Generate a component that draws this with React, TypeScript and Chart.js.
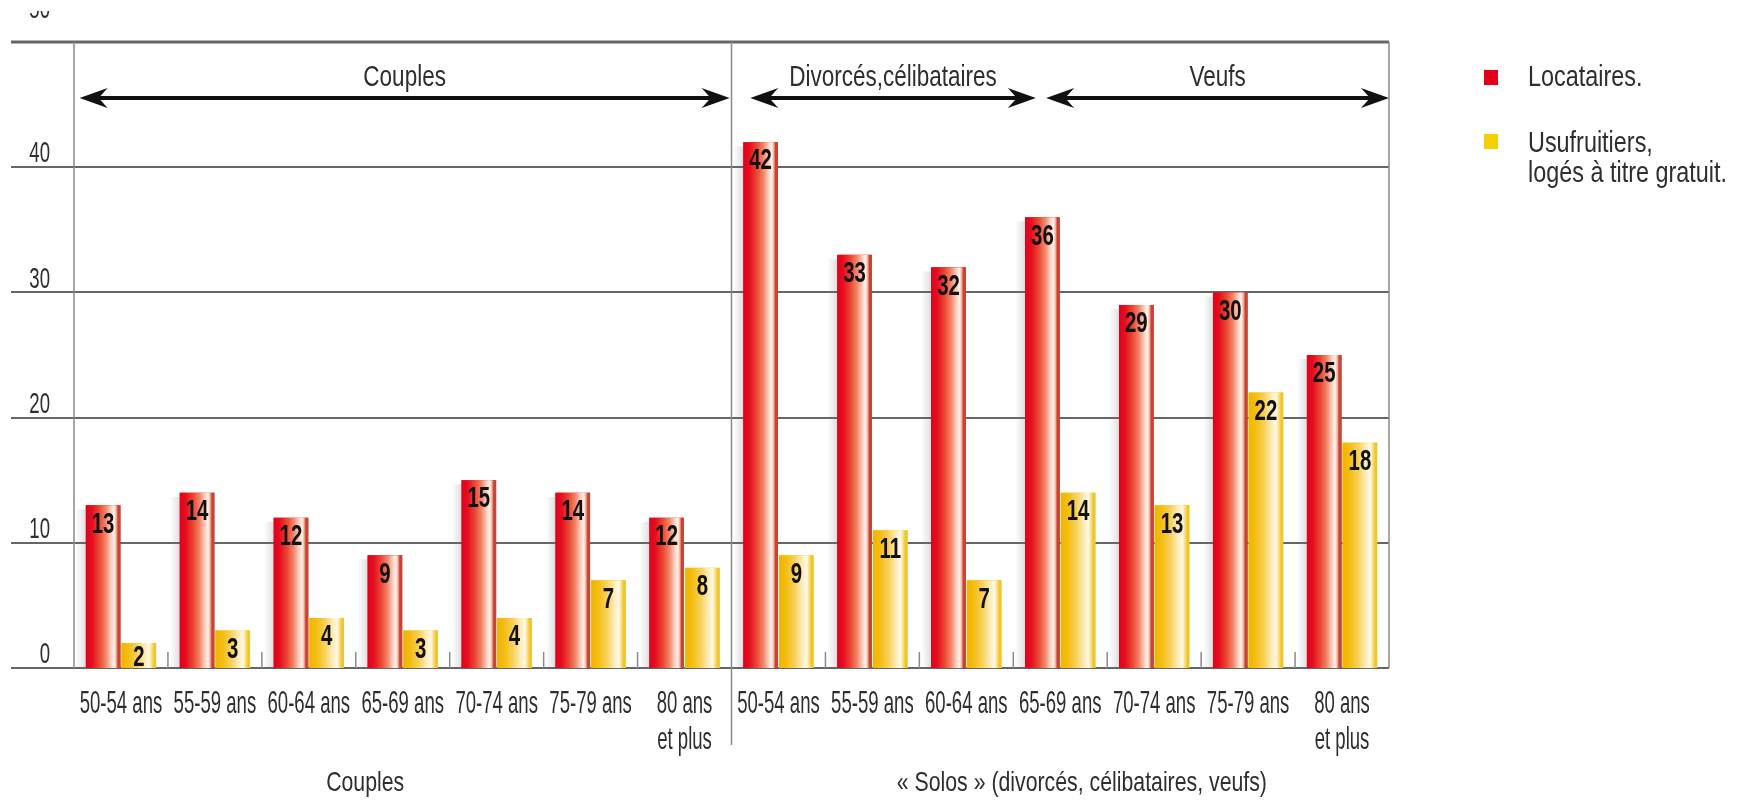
import { useEffect, useRef } from "react";
import { Chart, registerables } from "chart.js";

Chart.register(...registerables);

// Age brackets, repeated for couples and for people living alone
const ageGroups: (string | string[])[] = [
  "50-54 ans",
  "55-59 ans",
  "60-64 ans",
  "65-69 ans",
  "70-74 ans",
  "75-79 ans",
  ["80 ans", "et plus"],
];
const categories = [...ageGroups, ...ageGroups];

// Percentages per bracket
const locataires = [13, 14, 12, 9, 15, 14, 12, 42, 33, 32, 36, 29, 30, 25];
const usufruitiers = [2, 3, 4, 3, 4, 7, 8, 9, 11, 7, 14, 13, 22, 18];

const yTickValues = [0, 10, 20, 30, 40, 50];
const seriesLabels = ["Locataires.", "Usufruitiers,\nlogés à titre gratuit."];
const bandLabels = ["Couples", "Divorcés,célibataires", "Veufs"];
const groupLabels = ["Couples", "« Solos » (divorcés, célibataires, veufs)"];

const W = 1743;
const H = 801;
const FONT = "'Liberation Sans', Arial, sans-serif";
const TEXT = "#2e2e2e";
const GRID = "#666666";

// band spans and label anchors in category units (0 = left edge of the first bracket)
const BAND_SPANS: [number, number][] = [
  [0.06, 6.98],
  [7.2, 10.24],
  [10.35, 14],
];
const GROUP_CENTERS = [3.1, 10.73];

function condensedText(
  ctx: CanvasRenderingContext2D,
  s: string,
  x: number,
  y: number,
  size: number,
  sx: number,
  align: CanvasTextAlign = "center",
  weight = "normal",
  color = TEXT
) {
  ctx.save();
  ctx.translate(x, y);
  ctx.scale(sx, 1);
  ctx.font = `${weight} ${size}px ${FONT}`;
  ctx.fillStyle = color;
  ctx.textAlign = align;
  ctx.textBaseline = "middle";
  ctx.fillText(s, 0, 0);
  ctx.restore();
}

function arrowHead(ctx: CanvasRenderingContext2D, tipX: number, y: number, dir: number) {
  const L = 28;
  const Hh = 10;
  const N = 9;
  ctx.beginPath();
  ctx.moveTo(tipX, y);
  ctx.lineTo(tipX + dir * L, y - Hh);
  ctx.lineTo(tipX + dir * (L - N), y);
  ctx.lineTo(tipX + dir * L, y + Hh);
  ctx.closePath();
  ctx.fill();
}

function doubleArrow(ctx: CanvasRenderingContext2D, x1: number, x2: number, y: number) {
  ctx.save();
  ctx.strokeStyle = "#111";
  ctx.fillStyle = "#111";
  ctx.lineWidth = 4;
  ctx.beginPath();
  ctx.moveTo(x1 + 12, y);
  ctx.lineTo(x2 - 12, y);
  ctx.stroke();
  arrowHead(ctx, x1, y, 1);
  arrowHead(ctx, x2, y, -1);
  ctx.restore();
}

function barGradient(ctx: CanvasRenderingContext2D, left: number, right: number, red: boolean) {
  const g = ctx.createLinearGradient(left, 0, right, 0);
  if (red) {
    g.addColorStop(0, "#e1001c");
    g.addColorStop(0.18, "#e50f20");
    g.addColorStop(0.4, "#ec4a34");
    g.addColorStop(0.58, "#f2876a");
    g.addColorStop(0.74, "#fbd5c6");
    g.addColorStop(0.82, "#fff4ee");
    g.addColorStop(0.88, "#f3b09c");
    g.addColorStop(0.93, "#c9402e");
    g.addColorStop(1, "#c44a38");
  } else {
    g.addColorStop(0, "#f1b400");
    g.addColorStop(0.2, "#f3bd12");
    g.addColorStop(0.45, "#f8d058");
    g.addColorStop(0.66, "#fcebb4");
    g.addColorStop(0.8, "#fff9ea");
    g.addColorStop(0.88, "#f9dc78");
    g.addColorStop(0.94, "#f2c42a");
    g.addColorStop(1, "#efc43a");
  }
  return g;
}

const decorPlugin = {
  id: "decor",
  beforeDatasetsDraw(chart: any) {
    const { ctx, chartArea, scales } = chart;
    const y = scales.y;
    const x = scales.x;
    const step = x.getPixelForValue(1) - x.getPixelForValue(0);
    const edge = (u: number) => x.getPixelForValue(0) + (u - 0.5) * step;
    ctx.save();
    // horizontal rules, extended to the left under the value labels
    yTickValues.forEach((v) => {
      const py = Math.round(y.getPixelForValue(v));
      ctx.strokeStyle = GRID;
      ctx.lineWidth = v === 50 ? 3 : 2;
      ctx.beginPath();
      ctx.moveTo(11, py);
      ctx.lineTo(chartArea.right, py);
      ctx.stroke();
    });
    // frame verticals and the couples / solos divider
    ctx.strokeStyle = "#8a8a8a";
    ctx.lineWidth = 1.5;
    [chartArea.left, chartArea.right].forEach((px) => {
      ctx.beginPath();
      ctx.moveTo(px, chartArea.top);
      ctx.lineTo(px, chartArea.bottom);
      ctx.stroke();
    });
    ctx.beginPath();
    ctx.moveTo(edge(7), chartArea.top);
    ctx.lineTo(edge(7), 745);
    ctx.stroke();
    // short ticks between brackets
    for (let i = 1; i < categories.length; i++) {
      if (i === 7) continue;
      const px = edge(i);
      ctx.beginPath();
      ctx.moveTo(px, chartArea.bottom - 16);
      ctx.lineTo(px, chartArea.bottom);
      ctx.stroke();
    }
    ctx.restore();
  },
  afterDatasetsDraw(chart: any) {
    const { ctx } = chart;
    chart.data.datasets.forEach((ds: any, di: number) => {
      const meta = chart.getDatasetMeta(di);
      meta.data.forEach((el: any, i: number) => {
        const p = el.getProps(["x", "y", "base", "width"], true);
        const left = p.x - p.width / 2;
        const right = p.x + p.width / 2;
        const h = p.base - p.y;
        ctx.save();
        if (di === 0) {
          const sg = ctx.createLinearGradient(left - 10, 0, left, 0);
          sg.addColorStop(0, "rgba(110,110,110,0)");
          sg.addColorStop(1, "rgba(110,110,110,0.22)");
          ctx.fillStyle = sg;
          ctx.fillRect(left - 10, p.y + 4, 10, h - 4);
        }
        ctx.fillStyle = barGradient(ctx, left, right, di === 0);
        ctx.fillRect(left, p.y, p.width, h);
        ctx.restore();
        const off = Math.min(19, h * 0.6);
        condensedText(ctx, String(ds.data[i]), p.x, p.y + off, 30, 0.68, "center", "bold", "#111");
      });
    });
  },
  afterDraw(chart: any) {
    const { ctx, scales } = chart;
    const x = scales.x;
    const y = scales.y;
    const step = x.getPixelForValue(1) - x.getPixelForValue(0);
    const edge = (u: number) => x.getPixelForValue(0) + (u - 0.5) * step;

    // value axis labels, sitting above each rule
    yTickValues.forEach((v) => {
      const py = y.getPixelForValue(v);
      if (v === 50) {
        ctx.save();
        ctx.beginPath();
        ctx.rect(0, 11, 120, 20);
        ctx.clip();
        condensedText(ctx, String(v), 50, py - 32, 30, 0.62, "right");
        ctx.restore();
      } else {
        condensedText(ctx, String(v), 50, py - 13, 30, 0.62, "right");
      }
    });

    // bracket labels
    categories.forEach((c, i) => {
      const px = x.getPixelForValue(i);
      const lines = Array.isArray(c) ? c : [c];
      lines.forEach((ln, k) => condensedText(ctx, ln, px, 704 + k * 36, 32, 0.58));
    });

    // bands above the bars
    BAND_SPANS.forEach(([a, b], i) => {
      const x1 = edge(a);
      const x2 = edge(b);
      doubleArrow(ctx, x1, x2, 98);
      condensedText(ctx, bandLabels[i], (x1 + x2) / 2, 78, 30, 0.75);
    });

    // group captions below the axis
    GROUP_CENTERS.forEach((u, i) => {
      condensedText(ctx, groupLabels[i], edge(u), 783, 28, 0.76);
    });

    // legend
    const colors = ["#e2001a", "#f4d000"];
    const boxY = [70, 134];
    seriesLabels.forEach((lbl, i) => {
      ctx.fillStyle = colors[i];
      ctx.fillRect(1484, boxY[i], 14, 15);
      lbl.split("\n").forEach((ln, k) => {
        condensedText(ctx, ln, 1528, boxY[i] + 8 + k * 30 + (i === 1 ? 2 : 0), 30, 0.78, "left");
      });
    });
  },
};

export default function App() {
  const canvasRef = useRef<HTMLCanvasElement | null>(null);

  useEffect(() => {
    document.body.style.margin = "0";
    const canvas = canvasRef.current;
    if (!canvas) return;
    const chart = new Chart(canvas, {
      type: "bar",
      data: {
        labels: categories as any,
        datasets: [
          {
            label: seriesLabels[0],
            data: locataires,
            backgroundColor: "#e2001a",
            categoryPercentage: 0.76,
            barPercentage: 0.97,
          },
          {
            label: seriesLabels[1],
            data: usufruitiers,
            backgroundColor: "#f4d000",
            categoryPercentage: 0.76,
            barPercentage: 0.97,
          },
        ],
      },
      options: {
        responsive: false,
        animation: false,
        devicePixelRatio: 1,
        layout: { padding: { top: 42, right: W - 1389, left: 0, bottom: 0 } },
        plugins: {
          legend: { display: false },
          tooltip: { enabled: false },
        },
        scales: {
          x: {
            grid: { display: false },
            border: { display: false },
            ticks: { display: false },
            afterFit: (s: any) => {
              s.height = H - 668;
            },
          },
          y: {
            min: 0,
            max: 50,
            ticks: { display: false, stepSize: 10 },
            grid: { display: false },
            border: { display: false },
            afterFit: (s: any) => {
              s.width = 74;
            },
          },
        },
      },
      plugins: [decorPlugin],
    });
    return () => chart.destroy();
  }, []);

  return (
    <div style={{ width: W, height: H, background: "#fff" }}>
      <canvas ref={canvasRef} width={W} height={H} style={{ display: "block" }} />
    </div>
  );
}
